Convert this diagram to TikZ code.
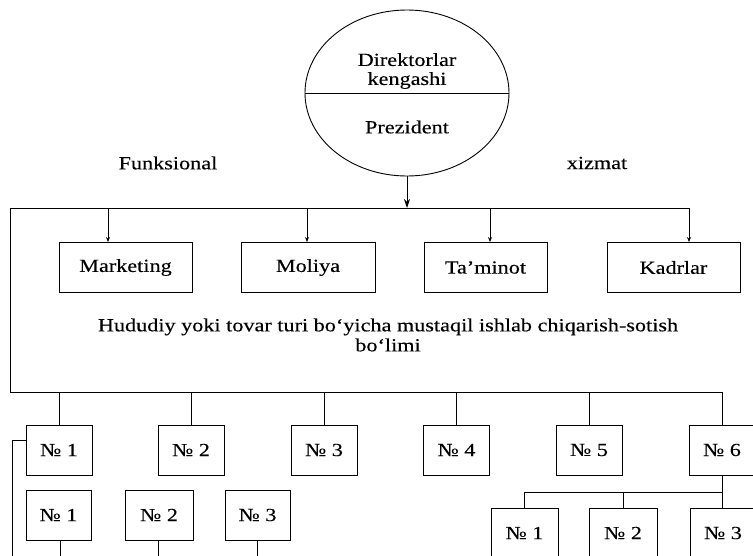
\documentclass[tikz,border=0pt]{standalone}
\usepackage{fontspec}
\setmainfont{Liberation Serif}[FakeStretch=1.2,FakeBold=0.2]
\usetikzlibrary{arrows.meta,shapes.geometric}
\begin{document}
\begin{tikzpicture}[x=1pt,y=-1pt,
  line width=0.9pt,
  txt/.style={font=\fontsize{18.5}{20}\selectfont, inner sep=0pt},
  box/.style={draw, rectangle, inner sep=0pt, minimum height=50pt, font=\fontsize{18.5}{20}\selectfont},
  bigarr/.style={-{Stealth[length=9pt,width=6pt]}},
  smallarr/.style={-{Stealth[length=5pt,width=4pt]}}]
\useasboundingbox (0,0) rectangle (753,555);
\clip (0,0) rectangle (753,555);

% top ellipse
\node[draw, ellipse, minimum width=204pt, minimum height=166pt, inner sep=0pt] (pres) at (407,93) {};
\draw (pres.west) -- (pres.east);
\node[txt, align=center] (dk) at (407,71) {Direktorlar\\[-1pt]kengashi};
\node[txt] (pz) at (407,127) {Prezident};

\node[txt] (fun) at (168,163) {Funksional};
\node[txt] (xiz) at (597,163) {xizmat};

% bracket lines
\coordinate (tC) at (407,208);
\coordinate (tL) at (10,208);
\coordinate (bL) at (10,392);
\coordinate (t1) at (108,208);
\coordinate (t2) at (307,208);
\coordinate (t3) at (490,208);
\coordinate (t4) at (689,208);
\coordinate (bR) at (722,392);

% functional boxes
\node[box, minimum width=133pt] (mk) at (125.5,267.5) {Marketing};
\node[box, minimum width=134pt] (mo) at (308,267.5) {Moliya};
\node[box, minimum width=123pt] (ta) at (485.5,267.5) {Ta’minot};
\node[box, minimum width=133pt] (ka) at (673.5,267.5) {Kadrlar};

\draw (t4) -- (tL) -- (bL) -- (bR);
\draw[bigarr] (pres.south) -- (tC);
\draw[smallarr] (t1) -- (t1 |- mk.north);
\draw[smallarr] (t2) -- (t2 |- mo.north);
\draw[smallarr] (t3) -- (t3 |- ta.north);
\draw[smallarr] (t4) -- (t4 |- ka.north);

\node[txt, align=center] (hud) at (388,335) {Hududiy yoki tovar turi bo‘yicha mustaqil ishlab chiqarish-sotish\\bo‘limi};

% bottom row
\node[box, minimum width=66pt] (b1) at (59,450) {№ 1};
\node[box, minimum width=66pt] (b2) at (191,450) {№ 2};
\node[box, minimum width=66pt] (b3) at (324,450) {№ 3};
\node[box, minimum width=66pt] (b4) at (456.5,450) {№ 4};
\node[box, minimum width=66pt] (b5) at (589,450) {№ 5};
\node[box, minimum width=66pt] (b6) at (722,450) {№ 6};
\foreach \n in {b1,b2,b3,b4,b5,b6} {\draw (\n.north |- bL) -- (\n.north);}

% feedback line on the left
\coordinate (fb) at (12,560);
\draw ([yshift=10pt]b1.west) -| (fb);

% second row left
\node[box, minimum width=65pt] (c1) at (58.5,515) {№ 1};
\node[box, minimum width=68pt] (c2) at (159,515) {№ 2};
\node[box, minimum width=65pt] (c3) at (257.5,515) {№ 3};
\coordinate (e1) at (60,560);
\coordinate (e2) at (158,560);
\coordinate (e3) at (257,560);
\draw (e1 |- c1.south) -- (e1);
\draw (e2 |- c2.south) -- (e2);
\draw (e3 |- c3.south) -- (e3);

% right subtree
\node[box, minimum width=67pt] (d1) at (524.5,533) {№ 1};
\node[box, minimum width=68pt] (d2) at (623,533) {№ 2};
\node[box, minimum width=66pt] (d3) at (723,533) {№ 3};
\coordinate (h6) at (722,492);
\draw (b6.south) -- (h6) -- (h6 -| d1.north);
\draw (d1.north |- h6) -- (d1.north);
\draw (d2.north |- h6) -- (d2.north);
\draw (h6) -- (h6 |- d3.north);
\end{tikzpicture}
\end{document}
